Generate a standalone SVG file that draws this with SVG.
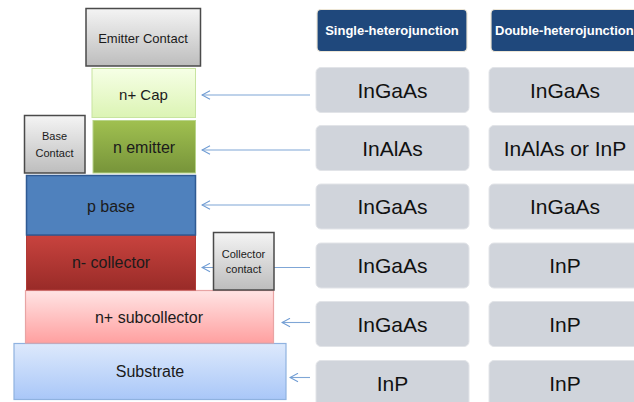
<svg xmlns="http://www.w3.org/2000/svg" width="634" height="402" viewBox="0 0 634 402">
<defs>
<linearGradient id="gContact" x1="0" y1="0" x2="0" y2="1"><stop offset="0" stop-color="#F4F4F4"/><stop offset="1" stop-color="#BDBDBD"/></linearGradient>
<linearGradient id="gCap" x1="0" y1="0" x2="0" y2="1"><stop offset="0" stop-color="#F6FFE6"/><stop offset="1" stop-color="#DCF4B4"/></linearGradient>
<linearGradient id="gEmit" x1="0" y1="0" x2="0" y2="1"><stop offset="0" stop-color="#A0C050"/><stop offset="1" stop-color="#77943A"/></linearGradient>
<linearGradient id="gColl" x1="0" y1="0" x2="0" y2="1"><stop offset="0" stop-color="#C8433E"/><stop offset="1" stop-color="#992B28"/></linearGradient>
<linearGradient id="gSub" x1="0" y1="0" x2="0" y2="1"><stop offset="0" stop-color="#FFE4E4"/><stop offset="1" stop-color="#FFA0A0"/></linearGradient>
<linearGradient id="gSubs" x1="0" y1="0" x2="0" y2="1"><stop offset="0" stop-color="#DDE9FC"/><stop offset="1" stop-color="#A9C7F8"/></linearGradient>
<marker id="arr" viewBox="0 0 10 10" refX="9" refY="5" markerWidth="10" markerHeight="10" markerUnits="userSpaceOnUse" orient="auto">
<path d="M1,0.8 L9,5 L1,9.2" fill="none" stroke="#6E9BD3" stroke-width="1.1"/>
</marker>
</defs>
<style>
text{font-family:"Liberation Sans",Arial,sans-serif;fill:#1b1b1b;text-anchor:middle}
.contact{fill:url(#gContact);stroke:#4a4a4a;stroke-width:1.5}
.lyr{font-size:16px}
.sm{font-size:11px}
.hdr{fill:#1F487C;stroke:#EDE6D6;stroke-width:1.2}
.hdrt{font-size:13px;font-weight:bold;fill:#ffffff}
.cell{fill:#D0D4DB;stroke:#E2E4E8;stroke-width:1}
.cellt{font-size:21px;fill:#111111}
.conn line{stroke:#7FA6D6;stroke-width:1.1;marker-end:url(#arr)}
</style>
<rect width="634" height="402" fill="#ffffff"/>
<g class="conn" id="connectors">
<line x1="310" y1="95" x2="202" y2="95"/>
<line x1="310" y1="150" x2="202" y2="150"/>
<line x1="310" y1="205" x2="202" y2="205"/>
<line x1="310" y1="267.5" x2="202" y2="267.5"/>
<line x1="310" y1="322.5" x2="282" y2="322.5"/>
<line x1="310" y1="377.5" x2="290" y2="377.5"/>
</g>
<g id="substrate"><rect x="14" y="343.5" width="272" height="56" fill="url(#gSubs)" stroke="#8FB2E0" stroke-width="1.2"/><text class="lyr" x="150" y="377">Substrate</text></g>
<g id="subcollector"><rect x="25.5" y="290.5" width="248" height="52.5" fill="url(#gSub)" stroke="#E8A4A4" stroke-width="1.2"/><text class="lyr" x="149" y="323">n+ subcollector</text></g>
<g id="collector"><rect x="26.5" y="235.5" width="169" height="54.5" fill="url(#gColl)" stroke="#B03A36" stroke-width="1"/><text class="lyr" x="111" y="268">n- collector</text></g>
<g id="collector-contact"><rect class="contact" x="213.5" y="232.5" width="60.5" height="57.5"/><text class="sm" x="243.5" y="258" font-size="10.5">Collector</text><text class="sm" x="243.5" y="273" font-size="10.5">contact</text></g>
<g id="pbase"><rect x="26.5" y="175.5" width="169" height="59.5" fill="#4F81BD" stroke="#2F5A93" stroke-width="1.5"/><text class="lyr" x="111" y="212">p base</text></g>
<g id="base-contact"><rect class="contact" x="24.5" y="115.5" width="60.5" height="57.5"/><text class="sm" x="54.5" y="140">Base</text><text class="sm" x="54.5" y="157">Contact</text></g>
<g id="emitter"><rect x="93" y="120.5" width="102.5" height="52.5" fill="url(#gEmit)" stroke="#B8D48A" stroke-width="1"/><text class="lyr" x="144" y="153">n emitter</text></g>
<g id="cap"><rect x="92" y="68.5" width="103.5" height="49" fill="url(#gCap)" stroke="#C8E4A0" stroke-width="1"/><text x="143.5" y="100" font-size="15">n+ Cap</text></g>
<g id="emitter-contact"><rect class="contact" x="86" y="8.5" width="114.5" height="57.5"/><text x="143" y="43" font-size="13">Emitter Contact</text></g>
<g id="header-single"><rect class="hdr" x="317" y="9.5" width="150" height="42" rx="4"/><text class="hdrt" x="392" y="35">Single-heterojunction</text></g>
<g id="header-double"><rect class="hdr" x="491" y="9.5" width="160" height="42" rx="4"/><text class="hdrt" x="495" y="35" style="text-anchor:start">Double-heterojunction</text></g>
<g id="s1"><rect class="cell" x="316" y="67.5" width="153" height="45" rx="5"/><text class="cellt" x="392.5" y="97.5">InGaAs</text></g>
<g id="s2"><rect class="cell" x="316" y="125.5" width="153" height="45" rx="5"/><text class="cellt" x="392.5" y="155.5">InAlAs</text></g>
<g id="s3"><rect class="cell" x="316" y="184" width="153" height="45" rx="5"/><text class="cellt" x="392.5" y="214">InGaAs</text></g>
<g id="s4"><rect class="cell" x="316" y="243" width="153" height="45" rx="5"/><text class="cellt" x="392.5" y="273">InGaAs</text></g>
<g id="s5"><rect class="cell" x="316" y="301.5" width="153" height="45" rx="5"/><text class="cellt" x="392.5" y="331.5">InGaAs</text></g>
<g id="s6"><rect class="cell" x="316" y="360.5" width="153" height="50" rx="5"/><text class="cellt" x="392.5" y="390.5">InP</text></g>
<g id="d1"><rect class="cell" x="489" y="67.5" width="153" height="45" rx="5"/><text class="cellt" x="565" y="97.5">InGaAs</text></g>
<g id="d2"><rect class="cell" x="489" y="125.5" width="153" height="45" rx="5"/><text class="cellt" x="565" y="155.5">InAlAs or InP</text></g>
<g id="d3"><rect class="cell" x="489" y="184" width="153" height="45" rx="5"/><text class="cellt" x="565" y="214">InGaAs</text></g>
<g id="d4"><rect class="cell" x="489" y="243" width="153" height="45" rx="5"/><text class="cellt" x="565" y="273">InP</text></g>
<g id="d5"><rect class="cell" x="489" y="301.5" width="153" height="45" rx="5"/><text class="cellt" x="565" y="331.5">InP</text></g>
<g id="d6"><rect class="cell" x="489" y="360.5" width="153" height="50" rx="5"/><text class="cellt" x="565" y="390.5">InP</text></g>
</svg>
